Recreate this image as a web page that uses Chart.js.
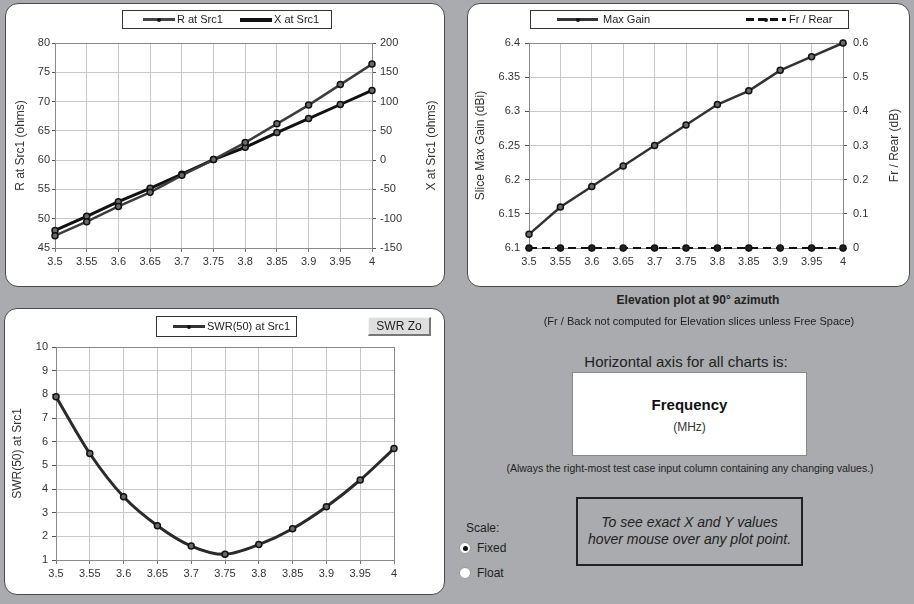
<!DOCTYPE html>
<html>
<head>
<meta charset="utf-8">
<script src="https://cdn.jsdelivr.net/npm/chart.js@4.4.0/dist/chart.umd.min.js"></script>
<style>
  html,body{margin:0;padding:0;}
  body{width:914px;height:604px;background:#a9abae;position:relative;overflow:hidden;font-family:"Liberation Sans",Arial,sans-serif;color:#222;}
  .panel{position:absolute;background:#fff;border:1.5px solid #4a4a4a;border-radius:13px;box-sizing:border-box;}
  canvas{position:absolute;}
  .abs{position:absolute;white-space:nowrap;}
  .legend{position:absolute;background:#fff;border:1px solid #333;box-sizing:border-box;}
  .lline{position:absolute;height:3px;background:#333;}
  .ldot{position:absolute;width:4px;height:4px;border-radius:50%;background:#111;}
  .ltext{position:absolute;font-size:11px;color:#222;line-height:13px;}
  .dash{position:absolute;height:3px;background:repeating-linear-gradient(90deg,#111 0 8px,transparent 8px 12px);}
  .radio{position:absolute;width:12px;height:12px;border-radius:50%;background:#fff;border:1px solid #999;box-sizing:border-box;}
</style>
</head>
<body>
<div class="panel" style="left:5px;top:3px;width:440px;height:284px;"></div>
<div class="panel" style="left:467px;top:3px;width:443px;height:284px;"></div>
<div class="panel" style="left:4px;top:308px;width:441px;height:287px;"></div>

<canvas id="c1" width="440" height="284" style="left:5px;top:3px;"></canvas>
<canvas id="c2" width="443" height="284" style="left:467px;top:3px;"></canvas>
<canvas id="c3" width="441" height="287" style="left:4px;top:308px;"></canvas>

<!-- legend 1 -->
<div class="legend" style="left:122px;top:10px;width:210px;height:19px;"></div>
<div class="lline" style="left:143px;top:18px;width:32px;background:#444;"></div>
<div class="ldot" style="left:157px;top:17.5px;"></div>
<div class="ltext" style="left:177px;top:13px;">R at Src1</div>
<div class="lline" style="left:240px;top:18px;width:32px;background:#111;height:3.5px;"></div>
<div class="ldot" style="left:254px;top:17.5px;"></div>
<div class="ltext" style="left:274px;top:13px;">X at Src1</div>

<!-- legend 2 -->
<div class="legend" style="left:530px;top:10px;width:319px;height:19px;"></div>
<div class="lline" style="left:557px;top:18px;width:41px;"></div>
<div class="ldot" style="left:575.5px;top:17.5px;"></div>
<div class="ltext" style="left:603px;top:13px;">Max Gain</div>
<div class="dash" style="left:746px;top:18px;width:40px;"></div>
<div class="ldot" style="left:764px;top:17.5px;"></div>
<div class="ltext" style="left:789px;top:13px;">Fr / Rear</div>

<!-- legend 3 -->
<div class="legend" style="left:156px;top:316px;width:141px;height:21px;"></div>
<div class="lline" style="left:173px;top:325px;width:32px;"></div>
<div class="ldot" style="left:187px;top:324.5px;"></div>
<div class="ltext" style="left:207px;top:320px;">SWR(50) at Src1</div>

<div class="abs" style="left:368px;top:317px;width:63px;height:19px;background:#dedede;border-top:1px solid #f4f4f4;border-left:1px solid #f4f4f4;border-right:2px solid #777;border-bottom:2px solid #777;box-sizing:border-box;font-size:12px;text-align:center;line-height:16px;color:#222;">SWR Zo</div>

<!-- right bottom texts -->
<div class="abs" style="left:560px;width:276px;top:293px;text-align:center;font-size:12px;font-weight:bold;color:#222;">Elevation plot at 90° azimuth</div>
<div class="abs" style="left:499px;width:400px;top:315px;text-align:center;font-size:11px;color:#222;">(Fr / Back not computed for Elevation slices unless Free Space)</div>
<div class="abs" style="left:536px;width:300px;top:353px;text-align:center;font-size:15px;color:#222;">Horizontal axis for all charts is:</div>
<div class="abs" style="left:572px;top:372px;width:235px;height:84px;background:#fff;border:1px solid #888;box-sizing:border-box;"></div>
<div class="abs" style="left:572px;width:235px;top:396px;text-align:center;font-size:15px;font-weight:bold;color:#111;">Frequency</div>
<div class="abs" style="left:572px;width:235px;top:420px;text-align:center;font-size:12px;color:#333;">(MHz)</div>
<div class="abs" style="left:470px;width:440px;top:462px;text-align:center;font-size:10.5px;color:#222;">(Always the right-most test case input column containing any changing values.)</div>
<div class="abs" style="left:576px;top:497px;width:227px;height:69px;border:2px solid #222;box-sizing:border-box;"></div>
<div class="abs" style="left:576px;width:227px;top:514px;text-align:center;font-size:14px;font-style:italic;color:#222;line-height:17px;">To see exact X and Y values<br>hover mouse over any plot point.</div>
<div class="abs" style="left:466px;top:521px;font-size:12px;color:#222;">Scale:</div>
<div class="radio" style="left:459px;top:542px;"></div>
<div class="abs" style="left:462.5px;top:545.5px;width:5px;height:5px;border-radius:50%;background:#111;"></div>
<div class="abs" style="left:477px;top:541px;font-size:12px;color:#222;">Fixed</div>
<div class="radio" style="left:459px;top:567px;"></div>
<div class="abs" style="left:477px;top:566px;font-size:12px;color:#222;">Float</div>

<script>
const freqLabels = ['3.5','3.55','3.6','3.65','3.7','3.75','3.8','3.85','3.9','3.95','4'];
const rValues = [47.1, 49.5, 52.1, 54.5, 57.4, 60.1, 63.0, 66.2, 69.4, 72.9, 76.4];
const xValues = [-120, -96, -71, -48, -24, 1, 22, 47, 71, 95, 119];
const gainValues = [6.12, 6.16, 6.19, 6.22, 6.25, 6.28, 6.31, 6.33, 6.36, 6.38, 6.40];
const frRearValues = [0, 0, 0, 0, 0, 0, 0, 0, 0, 0, 0];
const swrValues = [7.9, 5.5, 3.67, 2.45, 1.59, 1.24, 1.65, 2.32, 3.25, 4.38, 5.71];

const FONT = '"Liberation Sans", Arial, sans-serif';
const frame = {
  id: 'frame',
  beforeDatasetsDraw(chart) {
    const a = chart.chartArea, c = chart.ctx;
    c.save();
    c.strokeStyle = '#8a8a8a';
    c.lineWidth = 1;
    c.strokeRect(Math.round(a.left) + 0.5, Math.round(a.top) + 0.5, Math.round(a.right - a.left), Math.round(a.bottom - a.top));
    c.restore();
  },
  afterDraw(chart, args, opts) {
    if (!opts || !opts.text) return;
    const a = chart.chartArea, c = chart.ctx;
    c.save();
    c.translate(opts.x, (a.top + a.bottom) / 2);
    c.rotate(-Math.PI / 2);
    c.fillStyle = '#333';
    c.font = '12px ' + FONT;
    c.textAlign = 'center';
    c.textBaseline = 'middle';
    c.fillText(opts.text, 0, 0);
    c.restore();
  }
};

const fmt = v => String(+(+v).toFixed(4));

function xScale(height, tl, pad) {
  return {
    type: 'category',
    offset: false,
    grid: { color: '#c8c8c8', tickColor: '#777', tickLength: tl },
    border: { color: '#777' },
    ticks: { color: '#333', font: { family: FONT, size: 11 }, padding: pad, maxRotation: 0, autoSkip: false },
    afterFit(s) { s.height = height; }
  };
}
function yScale(pos, min, max, step, title, width, tl, pad, grid) {
  return {
    type: 'linear', position: pos, min, max,
    grid: { color: '#c8c8c8', tickColor: '#555', tickLength: tl, drawOnChartArea: grid },
    border: { color: '#777' },
    ticks: { stepSize: step, color: '#333', font: { family: FONT, size: 11 }, padding: pad, callback: fmt },
    title: { display: !!title, text: title || '', color: '#333', font: { family: FONT, size: 12 } },
    afterFit(s) { s.width = width; }
  };
}
function ds(label, data, axis, color, width, dash, tension) {
  return {
    label, data, yAxisID: axis,
    borderColor: color, borderWidth: width, borderDash: dash || [],
    tension: tension || 0,
    pointRadius: 3, pointBorderWidth: 1.5,
    pointBackgroundColor: '#6a6a6a', pointBorderColor: '#111',
    fill: false, clip: false
  };
}
const common = { responsive: false, animation: false };

new Chart(document.getElementById('c1'), {
  type: 'line',
  data: { labels: freqLabels, datasets: [
    ds('R at Src1', rValues, 'y', '#3c3c3c', 2.5),
    ds('X at Src1', xValues, 'y1', '#111', 3)
  ]},
  options: Object.assign({}, common, {
    plugins: { legend: { display: false }, frame: { text: 'X at Src1 (ohms)', x: 427 } },
    layout: { padding: { top: 40, left: 4, right: 2, bottom: 0 } },
    scales: {
      x: xScale(39, 4, 3),
      y: yScale('left', 45, 80, 5, 'R at Src1 (ohms)', 46, 3, 2, true),
      y1: yScale('right', -150, 200, 50, null, 71, 4, 4, false)
    }
  }),
  plugins: [frame]
});

new Chart(document.getElementById('c2'), {
  type: 'line',
  data: { labels: freqLabels, datasets: [
    ds('Max Gain', gainValues, 'y', '#333', 2.5),
    Object.assign(ds('Fr / Rear', frRearValues, 'y1', '#111', 2, [8, 5]), { pointBackgroundColor: '#222' })
  ]},
  options: Object.assign({}, common, {
    plugins: { legend: { display: false }, frame: { text: 'Fr / Rear (dB)', x: 428 } },
    layout: { padding: { top: 40, left: 2, right: 4, bottom: 0 } },
    scales: {
      x: xScale(39, 4, 3),
      y: yScale('left', 6.1, 6.4, 0.05, 'Slice Max Gain (dBi)', 60, 4, 5, true),
      y1: yScale('right', 0, 0.6, 0.1, null, 63, 4, 6, false)
    }
  }),
  plugins: [frame]
});

new Chart(document.getElementById('c3'), {
  type: 'line',
  data: { labels: freqLabels, datasets: [
    ds('SWR(50) at Src1', swrValues, 'y', '#2a2a2a', 3, null, 0.3)
  ]},
  options: Object.assign({}, common, {
    plugins: { legend: { display: false }, frame: {} },
    layout: { padding: { top: 39, left: 2, right: 51, bottom: 0 } },
    scales: {
      x: xScale(35, 4, 3),
      y: yScale('left', 1, 10, 1, 'SWR(50) at Src1', 50, 4, 4, true)
    }
  }),
  plugins: [frame]
});
</script>
</body>
</html>
